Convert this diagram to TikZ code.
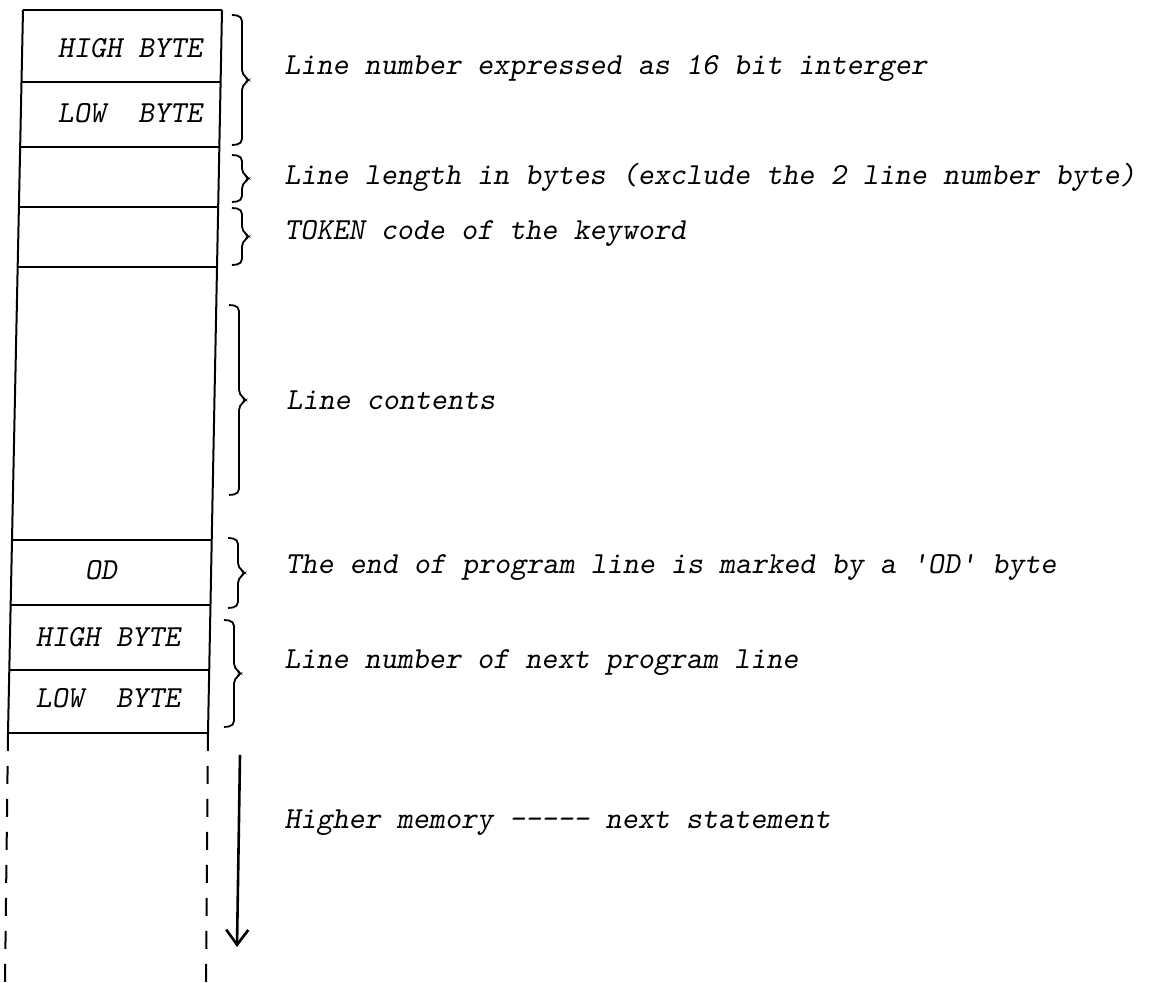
\documentclass[tikz,border=0pt]{standalone}
\usepackage{fontspec}
\usetikzlibrary{arrows.meta,calc}
\newcommand{\sqbrace}[2]{%
  \draw[brline] (#1) -- ($(#1)+(10,1)$)
     -- ($(#1)!0.5!(#2)+(10,-5)$) -- ($(#1)!0.5!(#2)+(18,0)$)
     -- ($(#1)!0.5!(#2)+(10,5)$) -- ($(#2)+(10,-1)$) -- (#2);}
\begin{document}
\begin{tikzpicture}[x=0.5pt,y=-0.5pt,
  edge/.style={line width=1pt},
  dashedge/.style={line width=1pt, dash pattern=on 9pt off 7.5pt},
  lbl/.style={font=\fontsize{15.3pt}{18pt}\selectfont\ttfamily\slshape, inner sep=0pt},
  desc/.style={lbl, anchor=west},
  brline/.style={line width=0.9pt, rounded corners=2.5pt}]
\useasboundingbox (0,0) rectangle (1175,983);
% corners of the column
\coordinate (tl) at (23,10);   \coordinate (tr) at (222,10);
\coordinate (bl) at (8,733);   \coordinate (br) at (208,733);
\coordinate (dl) at (5,983);   \coordinate (dr) at (206,983);
% outline
\draw[edge] (tl) -- (tr);
\draw[edge] (tl) -- (bl);
\draw[edge] (tr) -- (br);
\draw[edge] (bl) -- (br);
\draw[dashedge] (bl) -- (dl);
\draw[dashedge] (br) -- (dr);
% dividers
\draw[edge] (21.5,82) -- (220.6,82);
\draw[edge] (20.2,147) -- (219.3,147);
\draw[edge] (18.9,207) -- (218.2,207);
\draw[edge] (17.7,267) -- (217.0,267);
\draw[edge] (12.0,540) -- (211.7,540);
\draw[edge] (10.7,605) -- (210.5,605);
\draw[edge] (9.3,670) -- (209.2,670);
% cell labels
\node[lbl] (hb1) at (130,48) {HIGH BYTE};
\node[lbl] (lb1) at (130,113) {LOW\ \ BYTE};
\node[lbl] (od) at (101,570) {OD};
\node[lbl] (hb2) at (108,637) {HIGH BYTE};
\node[lbl] (lb2) at (108,698) {LOW\ \ BYTE};
% braces
\coordinate (b1a) at (232,15);  \coordinate (b1b) at (232,145);
\coordinate (b2a) at (232,155); \coordinate (b2b) at (232,202);
\coordinate (b3a) at (232,208); \coordinate (b3b) at (232,265);
\coordinate (b4a) at (229,305); \coordinate (b4b) at (229,495);
\coordinate (b5a) at (228,538); \coordinate (b5b) at (228,608);
\coordinate (b6a) at (224,620); \coordinate (b6b) at (224,727);
\sqbrace{b1a}{b1b}
\sqbrace{b2a}{b2b}
\sqbrace{b3a}{b3b}
\sqbrace{b4a}{b4b}
\sqbrace{b5a}{b5b}
\sqbrace{b6a}{b6b}
% descriptions
\node[desc] (t1) at (284,68) {Line number expressed as 16 bit interger};
\node[desc] (t2) at (284,177) {Line length in bytes (exclude the 2 line number byte)};
\node[desc] (t3) at (284,233) {TOKEN code of the keyword};
\node[desc] (t4) at (286,400) {Line contents};
\node[desc] (t5) at (285,567) {The end of program line is marked by a 'OD' byte};
\node[desc] (t6) at (284,663) {Line number of next program line};
\node[desc] (t7) at (284,823) {Higher memory ----- next statement};
% arrow
\coordinate (a1) at (240,755);
\coordinate (a2) at (237,947);
\draw[line width=1.3pt, -{Straight Barb[length=7.5pt,width=11pt]}] (a1) -- (a2);
\end{tikzpicture}
\end{document}
